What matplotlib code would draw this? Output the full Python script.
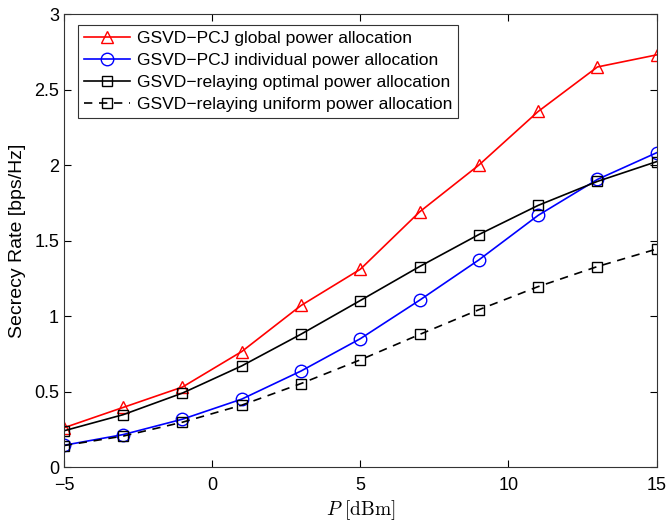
import matplotlib
matplotlib.use('Agg')
import numpy as np
from matplotlib import pyplot as plt

matplotlib.rcParams['font.family'] = ['Liberation Sans', 'DejaVu Sans']
matplotlib.rcParams['mathtext.fontset'] = 'cm'

P = [-5, -3, -1, 1, 3, 5, 7, 9, 11, 13, 15]

global_pcj = [0.26, 0.395, 0.53, 0.765, 1.07, 1.31, 1.69, 2.0, 2.355, 2.65, 2.73]
individual_pcj = [0.144, 0.215, 0.317, 0.45, 0.636, 0.85, 1.105, 1.372, 1.667, 1.905, 2.082]
relay_optimal = [0.24, 0.347, 0.49, 0.67, 0.88, 1.103, 1.328, 1.54, 1.733, 1.892, 2.023]
relay_uniform = [0.142, 0.205, 0.297, 0.41, 0.553, 0.71, 0.878, 1.042, 1.195, 1.328, 1.444]

labels = ['GSVD\u2212PCJ global power allocation',
          'GSVD\u2212PCJ individual power allocation',
          'GSVD\u2212relaying optimal power allocation',
          'GSVD\u2212relaying uniform power allocation']

fig = plt.figure(figsize=(6.66, 5.23), dpi=100)
ax = fig.add_axes([0.096, 0.107, 0.89, 0.866])

ax.plot(P, global_pcj, '-^', color='#ff0000', mfc='none', ms=9, lw=1.2, label=labels[0])
ax.plot(P, individual_pcj, '-o', color='#0000ff', mfc='none', ms=9, lw=1.2, label=labels[1])
ax.plot(P, relay_optimal, '-s', color='black', mfc='none', ms=7, lw=1.2, label=labels[2])
ax.plot(P, relay_uniform, '--s', color='black', mfc='none', ms=7, lw=1.2,
        dashes=(5, 4), label=labels[3])

ax.set_xlim(-5, 15)
ax.set_ylim(0, 3)
ax.set_xticks([-5, 0, 5, 10, 15])
ax.set_yticks([0, 0.5, 1, 1.5, 2, 2.5, 3])
ax.set_yticklabels(['0', '0.5', '1', '1.5', '2', '2.5', '3'])
ax.tick_params(direction='in', top=True, right=True, labelsize=13, length=5)
ax.tick_params(axis='x', pad=7)
for s in ax.spines.values():
    s.set_color('#333333')

ax.set_xlabel(r'$P\ [\mathrm{dBm}]$', fontsize=14, labelpad=3)
ax.set_ylabel('Secrecy Rate [bps/Hz]', fontsize=14, labelpad=6)

leg = ax.legend(loc='upper left', bbox_to_anchor=(0.024, 0.976), fontsize=12.6,
                fancybox=False, framealpha=1, edgecolor='#333333',
                borderaxespad=0, handlelength=2.6, labelspacing=0.38,
                handletextpad=0.4, borderpad=0.35)
leg.get_frame().set_linewidth(0.8)

fig.savefig('out.png', dpi=100)
